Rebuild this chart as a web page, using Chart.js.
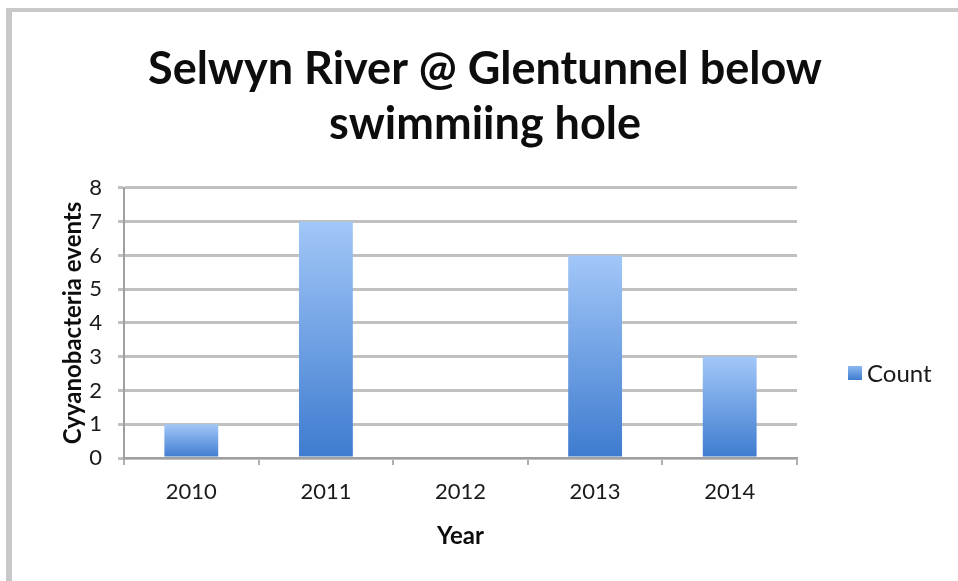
<!DOCTYPE html>
<html>
<head>
<meta charset="utf-8">
<script src="https://cdn.jsdelivr.net/npm/chart.js@4.4.0/dist/chart.umd.min.js"></script>
<style>
    body { margin: 0; background: #fff; }
    #frame {
        position: absolute; left: 6px; top: 8px;
        width: 952px; height: 573px;
        border-left: 6px solid #c8c8c8;
        border-top: 4px solid #c8c8c8;
    }
    #wrap { position: absolute; left: 0; top: 0; width: 946px; height: 569px; }
</style>
</head>
<body>
<div id="frame"><div id="wrap"><canvas id="barChartCanvas"></canvas></div></div>
<script>
// 数据
const years = ['2010', '2011', '2012', '2013', '2014'];
const counts = [1, 7, 0, 6, 3];
const seriesName = 'Count';
const titleLines = ['Selwyn River @ Glentunnel below', 'swimmiing hole'];

const FONT = 'Lato, "Open Sans", sans-serif';

// 每根柱子的渐变（上浅下深）
function barGradient(context) {
    const chart = context.chart;
    const y = chart.scales.y;
    if (!y || context.dataIndex === undefined) return '#5a93dd';
    const top = y.getPixelForValue(context.raw);
    const bottom = y.getPixelForValue(0);
    if (!isFinite(top) || top === bottom) return '#5a93dd';
    const g = chart.ctx.createLinearGradient(0, top, 0, bottom);
    g.addColorStop(0, '#a2c7f8');
    g.addColorStop(1, '#3e7bcf');
    return g;
}

// 右侧图例
const legendPlugin = {
    id: 'sideLegend',
    afterDraw(chart) {
        const ctx = chart.ctx;
        const x = 836, y = 354, s = 14;
        const g = ctx.createLinearGradient(0, y, 0, y + s);
        g.addColorStop(0, '#8db8f2');
        g.addColorStop(1, '#3e7bcf');
        ctx.save();
        ctx.fillStyle = g;
        ctx.fillRect(x, y, s, s);
        ctx.fillStyle = '#1a1a1a';
        ctx.font = '24px ' + FONT;
        ctx.textBaseline = 'middle';
        ctx.textAlign = 'left';
        ctx.fillText(chart.data.datasets[0].label, x + s + 5, y + s / 2 + 1);
        ctx.restore();
    }
};

const ctx = document.getElementById('barChartCanvas').getContext('2d');
const chart = new Chart(ctx, {
    type: 'bar',
    data: {
        labels: years,
        datasets: [{
            label: seriesName,
            data: counts,
            backgroundColor: barGradient,
            borderWidth: 0,
            categoryPercentage: 1,
            barPercentage: 0.4
        }]
    },
    options: {
        responsive: true,
        maintainAspectRatio: false,
        animation: false,
        layout: { padding: 0 },
        plugins: {
            legend: { display: false },
            tooltip: { enabled: false },
            title: {
                display: true,
                text: titleLines,
                color: '#0d0d0d',
                font: { family: FONT, size: 45, weight: 'bold', lineHeight: 1.244 },
                padding: { top: 29, bottom: 35 }
            }
        },
        scales: {
            x: {
                afterFit(scale) { scale.height = 123; },
                grid: {
                    display: true,
                    drawOnChartArea: false,
                    drawTicks: true,
                    tickLength: 7,
                    color: '#b0b0b0',
                    lineWidth: 2
                },
                border: { color: '#a0a0a0', width: 2 },
                ticks: {
                    color: '#1a1a1a',
                    padding: 14,
                    font: { family: FONT, size: 22 }
                },
                title: {
                    display: true,
                    text: 'Year',
                    color: '#0d0d0d',
                    font: { family: FONT, size: 24, weight: 'bold' },
                    padding: { top: 0, bottom: 30 }
                }
            },
            y: {
                min: 0,
                max: 8,
                afterFit(scale) { scale.width = 112; },
                grid: {
                    color: '#c0c0c0',
                    lineWidth: 3,
                    drawTicks: true,
                    tickLength: 6
                },
                border: { color: '#a0a0a0', width: 2 },
                ticks: {
                    stepSize: 1,
                    color: '#1a1a1a',
                    padding: 16,
                    font: { family: FONT, size: 22 }
                },
                title: {
                    display: true,
                    text: 'Cyyanobacteria events',
                    color: '#0d0d0d',
                    font: { family: FONT, size: 24, weight: 'bold' },
                    padding: { top: 47, bottom: 0 }
                }
            },
            // 右侧留白给图例
            legendSpace: {
                type: 'linear',
                position: 'right',
                display: true,
                afterFit(scale) { scale.width = 161; },
                grid: { display: false, drawTicks: false },
                border: { display: false },
                ticks: { display: false },
                title: { display: false }
            }
        }
    },
    plugins: [legendPlugin]
});
</script>
</body>
</html>
